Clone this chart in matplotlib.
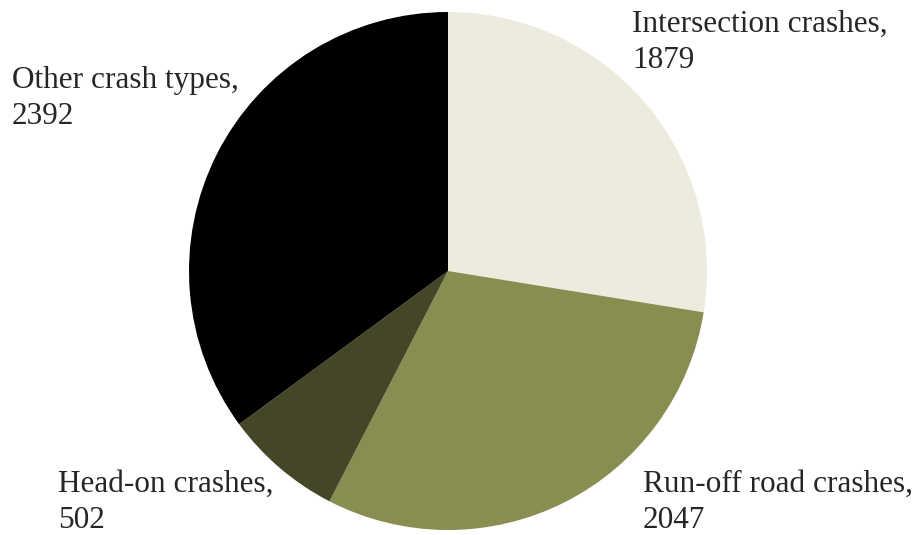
import matplotlib
matplotlib.use("Agg")
import matplotlib.pyplot as plt

names = ["Intersection crashes,", "Run-off road crashes,", "Head-on crashes,", "Other crash types,"]
values = [1879, 2047, 502, 2392]
colors = ["#ecebde", "#8a8d52", "#474527", "#000000"]

# label anchor (left x, first baseline y) in pixels from top-left
label_pos = [(632, 32), (643, 492), (58, 492), (12, 88)]
line_gap = 36

W, H = 920, 535
fig = plt.figure(figsize=(W / 100, H / 100), dpi=100)

cx, cy, r = 448, 271, 259
ax = fig.add_axes([(cx - r) / W, (H - cy - r) / H, 2 * r / W, 2 * r / H])
ax.pie(values, colors=colors, startangle=90, counterclock=False, radius=1)
ax.set_xlim(-1, 1)
ax.set_ylim(-1, 1)
ax.set_aspect("equal")
ax.axis("off")

for name, val, (x, y) in zip(names, values, label_pos):
    fig.text(x / W, 1 - y / H, name, family="Liberation Serif", fontsize=22.5,
             color="#262626", ha="left", va="baseline")
    fig.text(x / W, 1 - (y + line_gap) / H, str(val), family="Liberation Serif",
             fontsize=22.5, color="#262626", ha="left", va="baseline")

fig.savefig("out.png", dpi=100)
